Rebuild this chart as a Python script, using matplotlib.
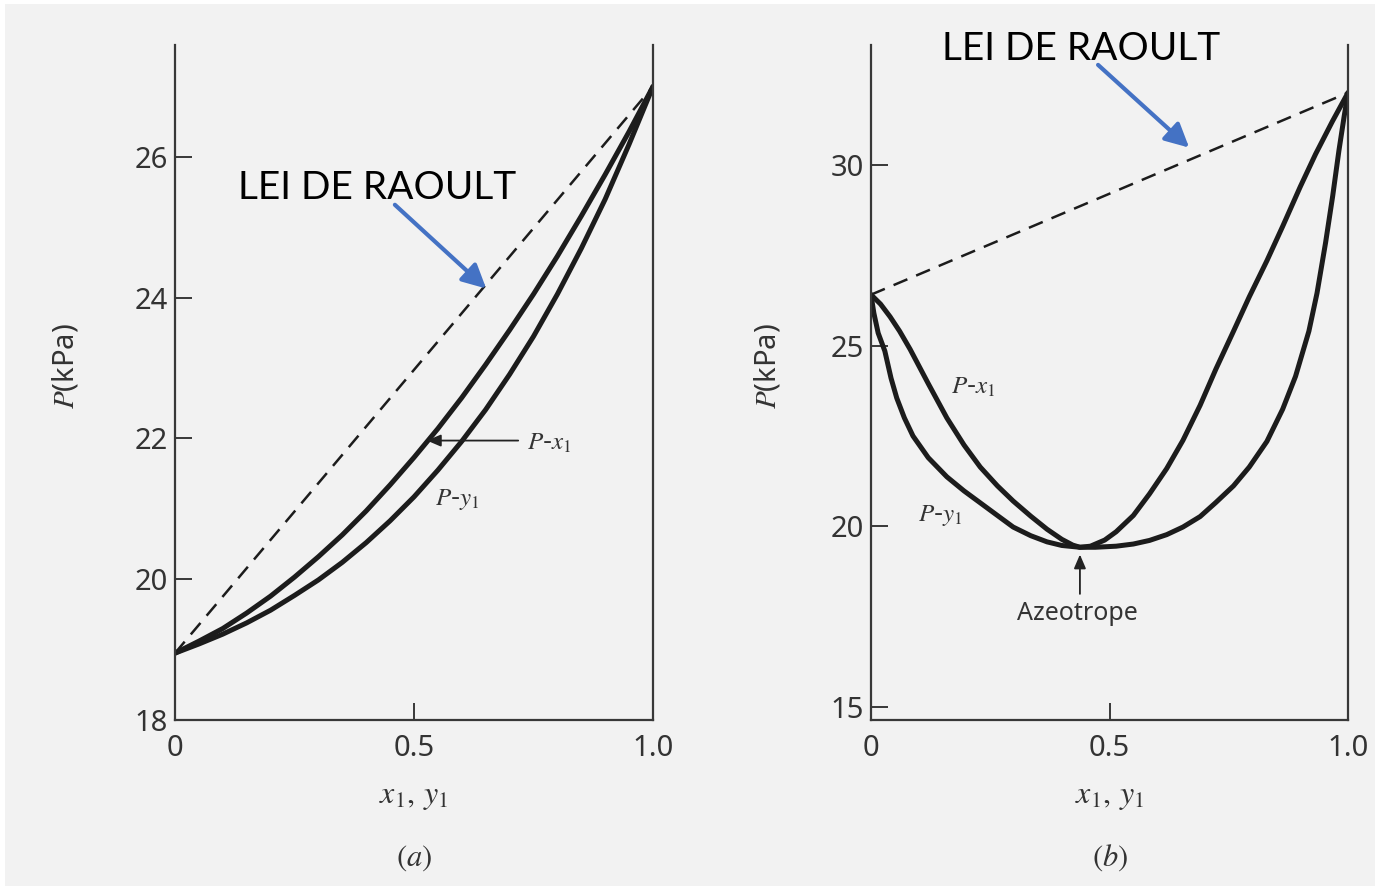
import matplotlib.pyplot as plt
from matplotlib.patches import Rectangle

plt.rcParams['mathtext.fontset'] = 'stix'

# (a) P-x1 / P-y1 at constant T, values in kPa
xa = [0, 0.05, 0.1, 0.15, 0.2, 0.25, 0.3, 0.35, 0.4, 0.45, 0.5,
      0.55, 0.6, 0.65, 0.7, 0.75, 0.8, 0.85, 0.9, 0.95, 1.0]
pa_bubble = [18.95, 19.12, 19.30, 19.52, 19.76, 20.03, 20.32, 20.63, 20.97, 21.34, 21.73,
             22.14, 22.58, 23.05, 23.54, 24.05, 24.59, 25.16, 25.75, 26.36, 27.0]
pa_dew = [18.95, 19.08, 19.22, 19.38, 19.56, 19.77, 19.99, 20.24, 20.52, 20.83, 21.17,
          21.55, 21.96, 22.41, 22.91, 23.45, 24.05, 24.70, 25.40, 26.18, 27.0]
psat_a = [18.95, 27.0]

# (b) system with a minimum-pressure azeotrope
xb = [0, 0.02, 0.04, 0.06, 0.082, 0.12, 0.159, 0.195, 0.229, 0.265, 0.298,
      0.335, 0.369, 0.40, 0.423, 0.438, 0.46, 0.49, 0.514, 0.55, 0.584,
      0.62, 0.654, 0.69, 0.723, 0.76, 0.793, 0.83, 0.863, 0.90, 0.932, 0.967, 1.0]
pb_bubble = [26.41, 26.15, 25.80, 25.40, 24.90, 23.95, 23.00, 22.25, 21.64, 21.12, 20.70,
             20.28, 19.92, 19.64, 19.48, 19.42, 19.45, 19.62, 19.85, 20.30, 20.90,
             21.60, 22.38, 23.35, 24.35, 25.40, 26.35, 27.35, 28.30, 29.40, 30.30, 31.20, 32.0]
yb = [0, 0.006, 0.015, 0.029, 0.042, 0.054, 0.07, 0.088, 0.12, 0.159, 0.195,
      0.229, 0.265, 0.298, 0.335, 0.369, 0.40, 0.438, 0.47, 0.514, 0.55,
      0.584, 0.62, 0.654, 0.69, 0.723, 0.76, 0.793, 0.83, 0.863, 0.89,
      0.918, 0.935, 0.953, 0.968, 0.981, 0.992, 1.0]
pb_dew = [26.41, 25.90, 25.35, 24.85, 24.10, 23.55, 23.00, 22.50, 21.90, 21.37, 20.98,
          20.65, 20.30, 19.98, 19.74, 19.57, 19.47, 19.42, 19.42, 19.45, 19.51,
          19.61, 19.77, 19.98, 20.27, 20.66, 21.12, 21.64, 22.35, 23.24, 24.15,
          25.40, 26.45, 27.85, 29.15, 30.40, 31.35, 32.0]
psat_b = [26.41, 32.0]

W, H = 1375, 886
fig = plt.figure(figsize=(W / 100, H / 100), dpi=100, facecolor='white')
fig.patches.append(Rectangle((5 / W, 0), 1, 1 - 4 / H, transform=fig.transFigure,
                             facecolor='#f2f2f2', edgecolor='none', zorder=-10))

ink = '#1c1c1c'
axcol = '#383838'
txtcol = '#333333'
blue = '#4472c4'
tickfont = 'Noto Sans'


def setup(ax, yticks, ylim):
    ax.set_facecolor('none')
    ax.set_xlim(0, 1)
    ax.set_ylim(*ylim)
    ax.spines['top'].set_visible(False)
    for s in ('left', 'right', 'bottom'):
        ax.spines[s].set_color(axcol)
        ax.spines[s].set_linewidth(1.6)
    ax.set_xticks([0, 0.5, 1.0])
    ax.set_xticklabels(['0', '0.5', '1.0'])
    ax.set_yticks(yticks)
    ax.tick_params(direction='in', length=12, width=1.4, color=axcol,
                   labelcolor=txtcol, labelsize=21)
    ax.tick_params(axis='x', pad=10)
    ax.tick_params(axis='y', pad=5)
    for t in ax.get_xticklabels() + ax.get_yticklabels():
        t.set_family(tickfont)


def curves(ax, x1, p_x, y1, p_y, psat):
    ax.plot([0, 1], psat, color=ink, lw=1.8, dashes=(6, 3.8))
    ax.plot(x1, p_x, color=ink, lw=3.6, solid_joinstyle='round', solid_capstyle='round')
    ax.plot(y1, p_y, color=ink, lw=3.6, solid_joinstyle='round', solid_capstyle='round')


def raoult(ax, txt_xy, tail, tip):
    ax.text(*txt_xy, 'LEI DE RAOULT', family='Lato', fontsize=28, color='black',
            ha='center', va='center')
    ax.annotate('', xy=tip, xytext=tail,
                arrowprops=dict(arrowstyle='-|>,head_length=0.65,head_width=0.33',
                                color=blue, lw=3.0, mutation_scale=22,
                                shrinkA=0, shrinkB=0))


def small_arrow(ax, tip, tail):
    ax.annotate('', xy=tip, xytext=tail,
                arrowprops=dict(arrowstyle='-|>,head_length=0.7,head_width=0.3',
                                color='#222222', lw=1.3, mutation_scale=12,
                                shrinkA=0, shrinkB=0))


lab = dict(fontsize=18, color=txtcol, ha='center', va='center')

# panel (a)
ax1 = fig.add_axes([175 / W, 1 - 720 / H, 478 / W, 675 / H])
setup(ax1, [18, 20, 22, 24, 26], (18, 27.59))
curves(ax1, xa, pa_bubble, xa, pa_dew, psat_a)
raoult(ax1, (0.423, 25.56), (0.460, 25.32), (0.651, 24.13))
small_arrow(ax1, (0.527, 21.97), (0.718, 21.97))
ax1.text(0.736, 21.93, r'$P$-$x_1$', fontsize=18, color=txtcol, ha='left', va='center')
ax1.text(0.590, 21.13, r'$P$-$y_1$', **lab)

# panel (b)
ax2 = fig.add_axes([871 / W, 1 - 720 / H, 477 / W, 675 / H])
setup(ax2, [15, 20, 25, 30], (14.64, 33.32))
curves(ax2, xb, pb_bubble, yb, pb_dew, psat_b)
raoult(ax2, (0.440, 33.21), (0.476, 32.77), (0.667, 30.48))
ax2.text(0.214, 23.86, r'$P$-$x_1$', **lab)
ax2.text(0.145, 20.31, r'$P$-$y_1$', **lab)
small_arrow(ax2, (0.438, 19.22), (0.438, 18.13))
ax2.text(0.432, 17.58, 'Azeotrope', family=tickfont, fontsize=18,
         color=txtcol, ha='center', va='center')

# axis titles and panel tags
for cx, ylx, tag in ((414, 65, 'a'), (1110, 768, 'b')):
    fig.text(cx / W, 1 - 797 / H, r'$x_1,\, y_1$', fontsize=23, color=txtcol,
             ha='center', va='center')
    fig.text(cx / W, 1 - 858 / H, r'$(' + tag + ')$', fontsize=22, color=txtcol,
             ha='center', va='center')
    fig.text(ylx / W, 1 - 366 / H, r'$P$(kPa)', fontsize=21, color=txtcol,
             family=tickfont, rotation=90, ha='center', va='center')

fig.savefig('out.png', dpi=100, facecolor=fig.get_facecolor())
